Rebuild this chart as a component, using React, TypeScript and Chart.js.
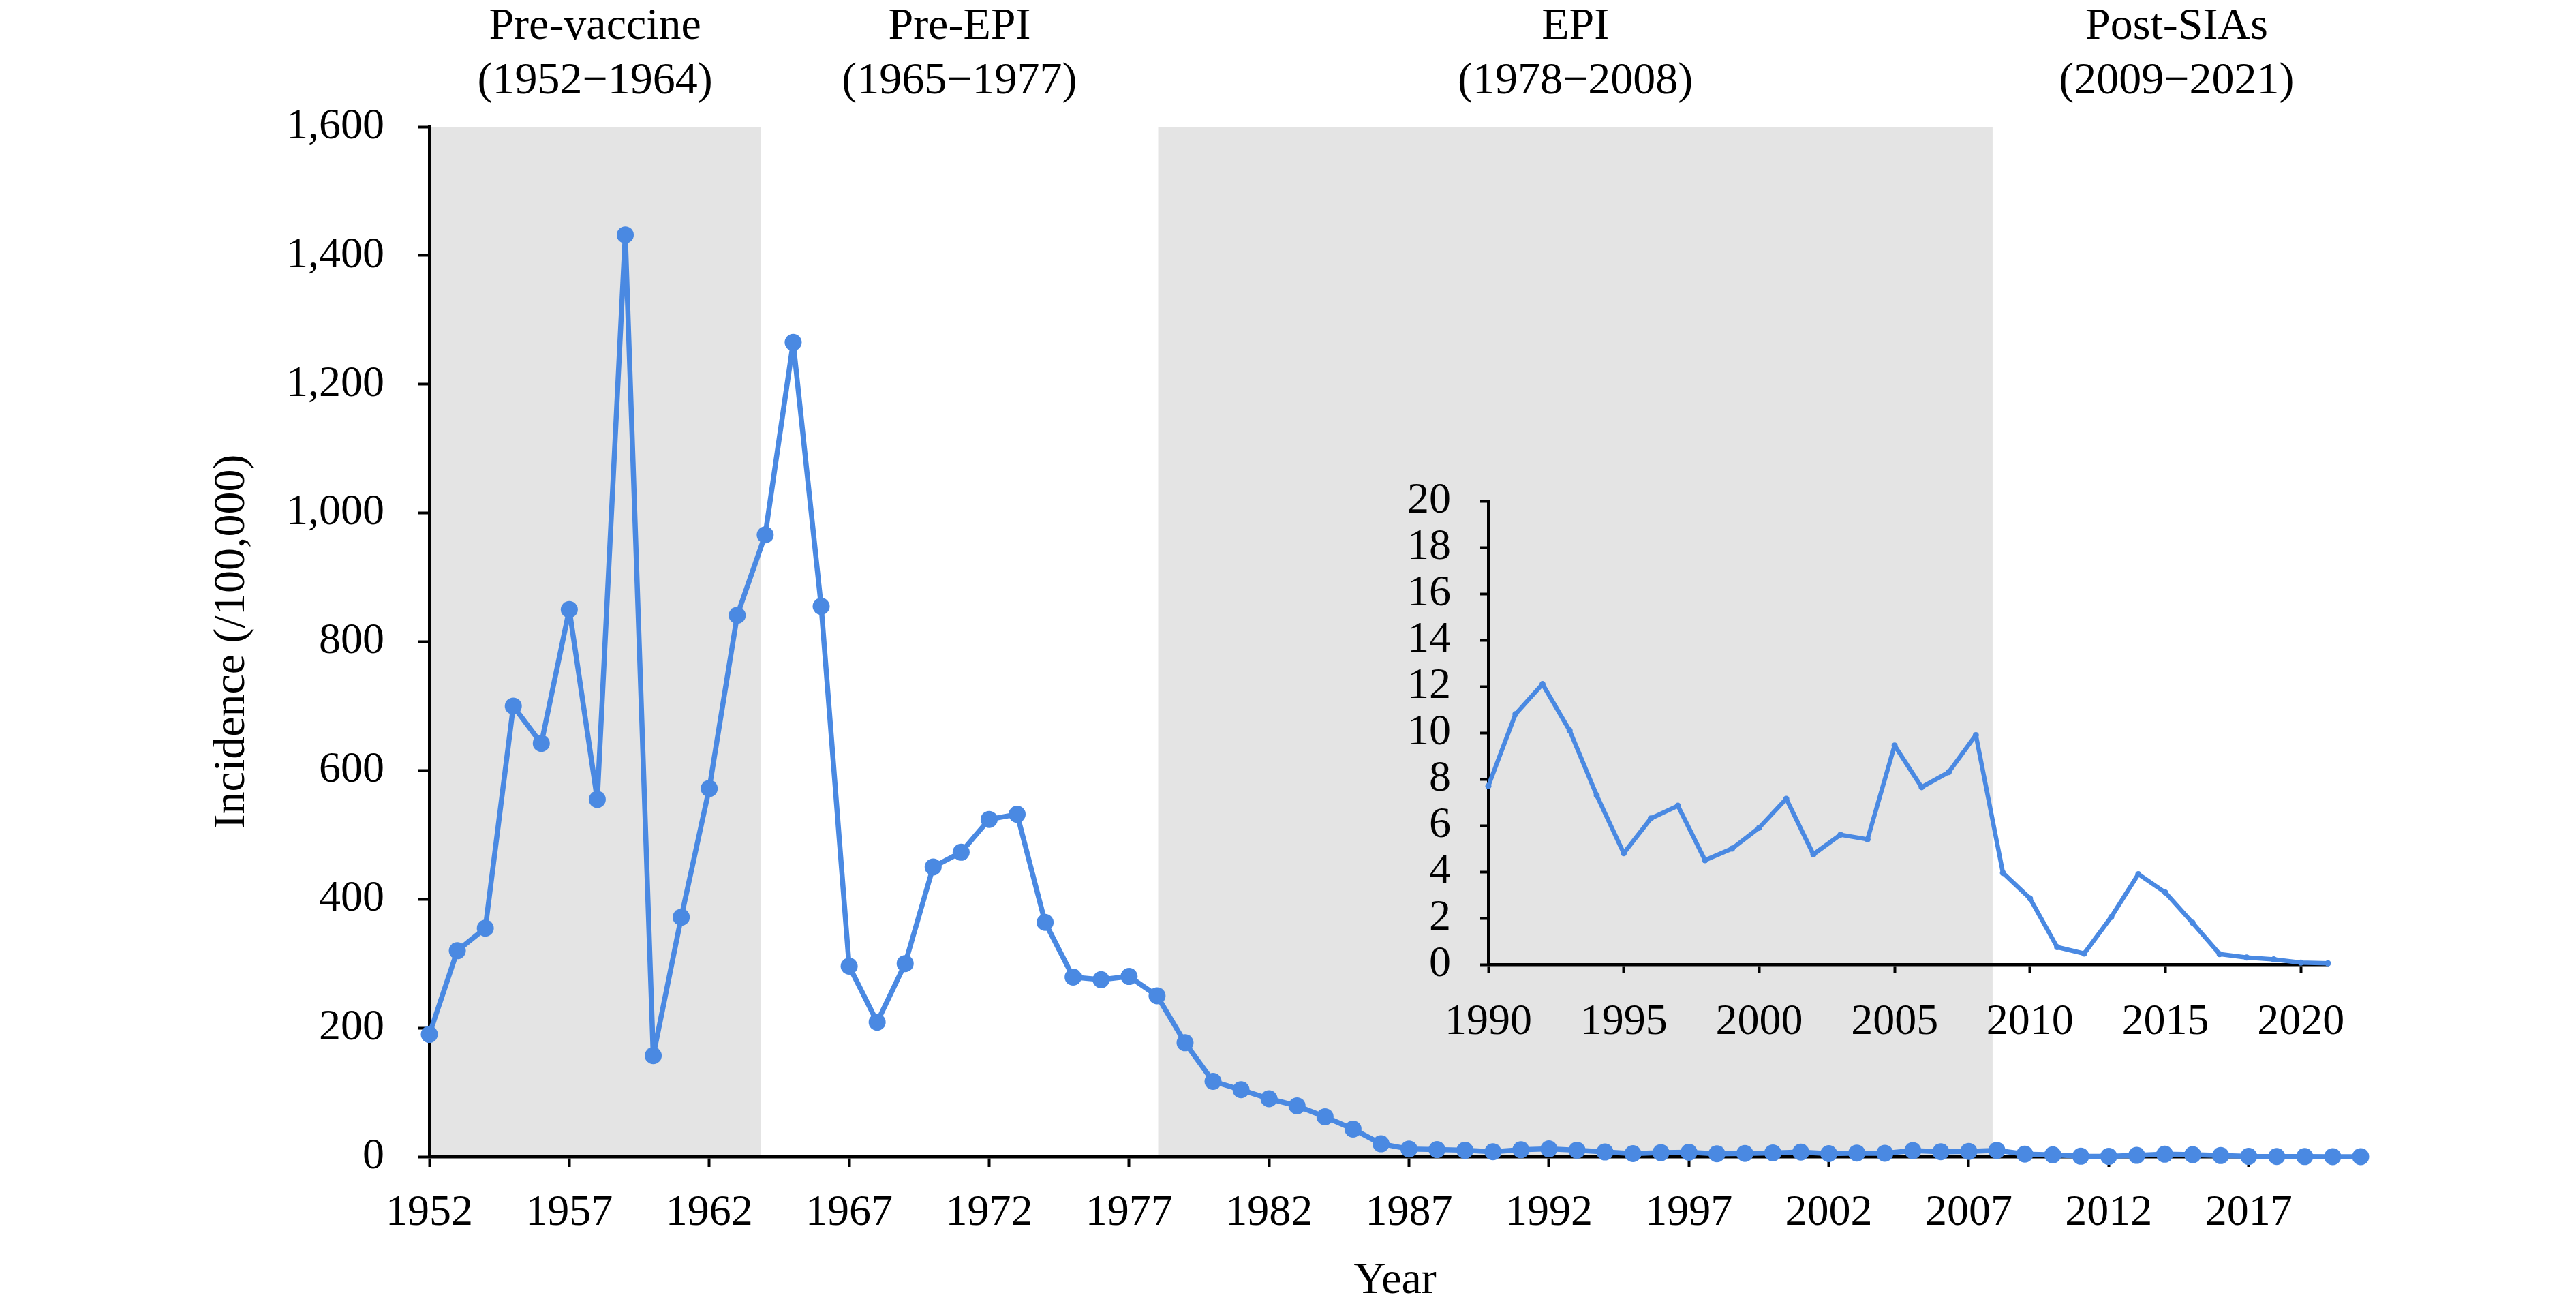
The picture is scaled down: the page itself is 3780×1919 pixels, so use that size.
import React, { useEffect, useRef } from 'react';
import { Chart, registerables } from 'chart.js';

Chart.register(...registerables);

const years = [
  '1952', '1953', '1954', '1955', '1956', '1957', '1958', '1959', '1960', '1961',
  '1962', '1963', '1964', '1965', '1966', '1967', '1968', '1969', '1970', '1971',
  '1972', '1973', '1974', '1975', '1976', '1977', '1978', '1979', '1980', '1981',
  '1982', '1983', '1984', '1985', '1986', '1987', '1988', '1989', '1990', '1991',
  '1992', '1993', '1994', '1995', '1996', '1997', '1998', '1999', '2000', '2001',
  '2002', '2003', '2004', '2005', '2006', '2007', '2008', '2009', '2010', '2011',
  '2012', '2013', '2014', '2015', '2016', '2017', '2018', '2019', '2020', '2021',
];

const incidence = [
  190, 320, 355, 700, 642, 850, 555, 1432, 157, 372,
  572, 841, 966, 1265, 855, 296, 209, 300, 450, 473,
  524, 532, 364, 279, 275, 280, 250, 177, 117, 104,
  90, 79, 62, 43, 20, 12, 11, 10, 7.7, 10.8,
  12.1, 10.1, 7.3, 4.8, 6.3, 6.85, 4.5, 5.0, 5.9, 7.15,
  4.75, 5.6, 5.4, 9.45, 7.65, 8.3, 9.9, 3.95, 2.85, 0.75,
  0.47, 2.05, 3.9, 3.1, 1.8, 0.45, 0.3, 0.22, 0.08, 0.05,
];

const insetStartYear = '1990';
const insetStart = years.indexOf(insetStartYear);
const insetYears = years.slice(insetStart);
const insetIncidence = incidence.slice(insetStart);

const yTicksMain = { min: 0, max: 1600, step: 200 };
const yTicksInset = { min: 0, max: 20, step: 2 };

const phaseNames = ['Pre-vaccine', 'Pre-EPI', 'EPI', 'Post-SIAs'];
const phaseRanges = ['(1952\u22121964)', '(1965\u22121977)', '(1978\u22122008)', '(2009\u22122021)'];
const phaseBounds = [1952, 1963.84, 1978.04, 2007.85, 2021];
const phaseShaded = [true, false, true, false];

const BLUE = '#4A89E2';
const SHADE = '#E4E4E4';
const FONT = "'Liberation Serif', 'Times New Roman', serif";
const W = 3780;
const H = 1919;

const phasePlugin = {
  id: 'phases',
  beforeDraw(chart: any) {
    const { ctx, chartArea, scales } = chart;
    const x = scales.x;
    ctx.save();
    ctx.fillStyle = SHADE;
    for (let i = 0; i < phaseNames.length; i++) {
      if (!phaseShaded[i]) continue;
      const x0 = x.getPixelForValue(phaseBounds[i] - 1952);
      const x1 = x.getPixelForValue(phaseBounds[i + 1] - 1952);
      ctx.fillRect(x0, chartArea.top, x1 - x0, chartArea.bottom - chartArea.top);
    }
    ctx.restore();
  },
  afterDraw(chart: any) {
    const { ctx, scales } = chart;
    const x = scales.x;
    ctx.save();
    ctx.fillStyle = '#000';
    ctx.font = `66px ${FONT}`;
    ctx.textAlign = 'center';
    ctx.textBaseline = 'alphabetic';
    for (let i = 0; i < phaseNames.length; i++) {
      const x0 = x.getPixelForValue(phaseBounds[i] - 1952);
      const x1 = x.getPixelForValue(phaseBounds[i + 1] - 1952);
      const cx = (x0 + x1) / 2;
      ctx.fillText(phaseNames[i], cx, 57);
      ctx.fillText(phaseRanges[i], cx, 137);
    }
    ctx.restore();
  },
};

const tickColorEvery5 = (c: any) => (c.index % 5 === 0 ? '#000' : 'rgba(0,0,0,0)');

export default function App() {
  const mainRef = useRef<HTMLCanvasElement>(null);
  const insetRef = useRef<HTMLCanvasElement>(null);

  useEffect(() => {
    document.body.style.margin = '0';
    const main = new Chart(mainRef.current as HTMLCanvasElement, {
      type: 'line',
      data: {
        labels: years,
        datasets: [
          {
            data: incidence,
            borderColor: BLUE,
            backgroundColor: BLUE,
            borderWidth: 7.5,
            borderJoinStyle: 'round',
            borderCapStyle: 'round',
            pointRadius: 12.5,
            pointBorderWidth: 0,
            pointBackgroundColor: BLUE,
            tension: 0,
            clip: false as any,
          },
        ],
      },
      options: {
        responsive: false,
        animation: false,
        devicePixelRatio: 1,
        events: [],
        layout: { padding: { left: 0, right: W - 3464, top: 186, bottom: 0 } },
        plugins: { legend: { display: false }, tooltip: { enabled: false } },
        scales: {
          x: {
            type: 'category',
            offset: false,
            grid: {
              drawOnChartArea: false,
              drawTicks: true,
              tickLength: 15,
              tickWidth: 4,
              tickColor: tickColorEvery5,
            },
            border: { display: true, color: '#000', width: 4.5 },
            ticks: {
              autoSkip: false,
              maxRotation: 0,
              minRotation: 0,
              padding: 30,
              color: '#000',
              font: { family: FONT, size: 64 },
              callback: (_v: any, i: number) => (i % 5 === 0 ? years[i] : ''),
            },
            title: {
              display: true,
              text: 'Year',
              color: '#000',
              font: { family: FONT, size: 66 },
              padding: { top: 1, bottom: 0 },
            },
            afterFit: (s: any) => {
              s.height = H - 1697;
            },
          },
          y: {
            min: yTicksMain.min,
            max: yTicksMain.max,
            grid: {
              drawOnChartArea: false,
              drawTicks: true,
              tickLength: 16,
              tickWidth: 4,
              tickColor: '#000',
            },
            border: { display: true, color: '#000', width: 4.5 },
            ticks: {
              stepSize: yTicksMain.step,
              autoSkip: false,
              padding: 50,
              color: '#000',
              font: { family: FONT, size: 64 },
              callback: (v: any) => Number(v).toLocaleString('en-US'),
            },
            title: {
              display: true,
              text: 'Incidence (/100,000)',
              color: '#000',
              font: { family: FONT, size: 66 },
              padding: { top: 301, bottom: 0 },
            },
            afterFit: (s: any) => {
              s.width = 630;
            },
          },
        },
      },
      plugins: [phasePlugin],
    });

    const inset = new Chart(insetRef.current as HTMLCanvasElement, {
      type: 'line',
      data: {
        labels: insetYears,
        datasets: [
          {
            data: insetIncidence,
            borderColor: BLUE,
            backgroundColor: BLUE,
            borderWidth: 6.5,
            borderJoinStyle: 'round',
            borderCapStyle: 'round',
            pointRadius: 4.5,
            pointBorderWidth: 0,
            pointBackgroundColor: BLUE,
            tension: 0,
            clip: false as any,
          },
        ],
      },
      options: {
        responsive: false,
        animation: false,
        devicePixelRatio: 1,
        events: [],
        layout: { padding: { left: 0, right: W - 3416, top: 735, bottom: 0 } },
        plugins: { legend: { display: false }, tooltip: { enabled: false } },
        scales: {
          x: {
            type: 'category',
            offset: false,
            grid: {
              drawOnChartArea: false,
              drawTicks: true,
              tickLength: 12,
              tickWidth: 4,
              tickColor: tickColorEvery5,
            },
            border: { display: true, color: '#000', width: 4.5 },
            ticks: {
              autoSkip: false,
              maxRotation: 0,
              minRotation: 0,
              padding: 35,
              color: '#000',
              font: { family: FONT, size: 64 },
              callback: (_v: any, i: number) => (i % 5 === 0 ? insetYears[i] : ''),
            },
            afterFit: (s: any) => {
              s.height = H - 1415;
            },
          },
          y: {
            min: yTicksInset.min,
            max: yTicksInset.max,
            grid: {
              drawOnChartArea: false,
              drawTicks: true,
              tickLength: 12,
              tickWidth: 4,
              tickColor: '#000',
            },
            border: { display: true, color: '#000', width: 4.5 },
            ticks: {
              stepSize: yTicksInset.step,
              autoSkip: false,
              padding: 43,
              color: '#000',
              font: { family: FONT, size: 64 },
            },
            afterFit: (s: any) => {
              s.width = 2184;
            },
          },
        },
      },
    });

    return () => {
      main.destroy();
      inset.destroy();
    };
  }, []);

  const canvasStyle: React.CSSProperties = {
    position: 'absolute',
    left: 0,
    top: 0,
    width: W,
    height: H,
  };

  return (
    <div style={{ position: 'absolute', left: 0, top: 0, width: W, height: H, background: '#fff' }}>
      <canvas ref={mainRef} width={W} height={H} style={canvasStyle} />
      <canvas ref={insetRef} width={W} height={H} style={canvasStyle} />
    </div>
  );
}
